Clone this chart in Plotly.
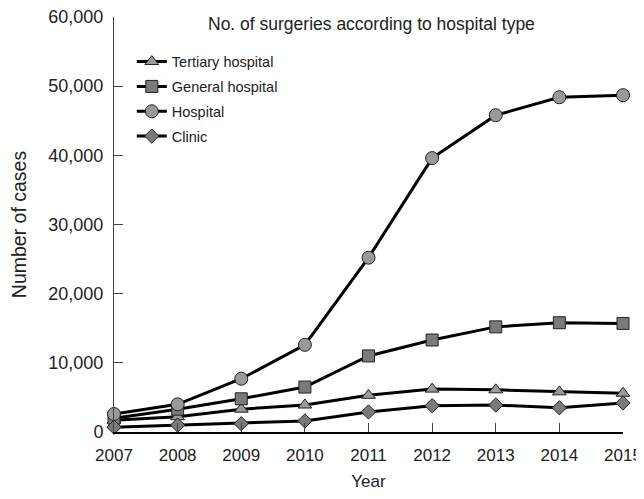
import plotly.graph_objects as go

years = [2007, 2008, 2009, 2010, 2011, 2012, 2013, 2014, 2015]
tertiary = [1700, 2200, 3300, 3900, 5300, 6200, 6100, 5800, 5600]
general = [2000, 3300, 4800, 6500, 11000, 13300, 15200, 15800, 15700]
hospital = [2600, 4000, 7700, 12600, 25200, 39600, 45800, 48400, 48700]
clinic = [700, 1000, 1200, 1600, 2900, 3800, 3900, 3500, 4200]

series = [
    ("Tertiary hospital", tertiary, "triangle-up", 12, "#999999"),
    ("General hospital", general, "square", 12, "#7a7a7a"),
    ("Hospital", hospital, "circle", 13, "#999999"),
    ("Clinic", clinic, "diamond", 11, "#7a7a7a"),
]

FONT = "Liberation Sans, Arial, sans-serif"

fig = go.Figure()
for name, vals, sym, sz, fc in series:
    fig.add_trace(go.Scatter(
        x=years, y=vals, name=name, mode="lines+markers", legendgroup=name,
        line=dict(color="black", width=3),
        marker=dict(symbol=sym, size=sz, color=fc,
                    line=dict(color="#222222", width=1)),
        cliponaxis=False,
    ))

fig.update_layout(
    width=636, height=483,
    margin=dict(l=106, r=21, t=9, b=59, autoexpand=False),
    paper_bgcolor="white", plot_bgcolor="white",
    font=dict(family=FONT, size=17, color="#222222"),
    showlegend=True,
    legend=dict(x=0.035, y=0.931, xanchor="left", yanchor="top",
                font=dict(size=14.5, family=FONT, color="#222222"),
                bgcolor="rgba(0,0,0,0)", itemwidth=30, tracegroupgap=3),
    annotations=[dict(text="No. of surgeries according to hospital type",
                      x=0.505, y=1.0 - 7 / 415, xref="paper", yref="paper",
                      xanchor="center", yanchor="middle", showarrow=False,
                      font=dict(size=17.5, family=FONT, color="#222222"))],
)
fig.update_xaxes(
    range=[2007, 2015], tickvals=years, ticktext=[str(y) for y in years],
    showgrid=False, zeroline=False, showline=True, linecolor="black", linewidth=2,
    ticks="inside", ticklen=9, tickcolor="#444444", tickwidth=1,
    title=dict(text="Year", standoff=13, font=dict(size=17)),
    tickfont=dict(size=17), ticklabelstandoff=7, automargin=False,
    ticklabeloverflow="allow",
)
fig.update_yaxes(
    range=[0, 60000], tickvals=[0, 10000, 20000, 30000, 40000, 50000, 60000],
    ticktext=["0", "10,000", "20,000", "30,000", "40,000", "50,000", "60,000"],
    showgrid=False, zeroline=False, showline=True, linecolor="#444444", linewidth=1,
    ticks="inside", ticklen=9, tickcolor="#444444", tickwidth=1,
    title=dict(text="Number of cases", standoff=17, font=dict(size=19.5)),
    tickfont=dict(size=18), ticklabelstandoff=6, automargin=False,
    ticklabeloverflow="allow",
)
fig.write_html("out.html")
